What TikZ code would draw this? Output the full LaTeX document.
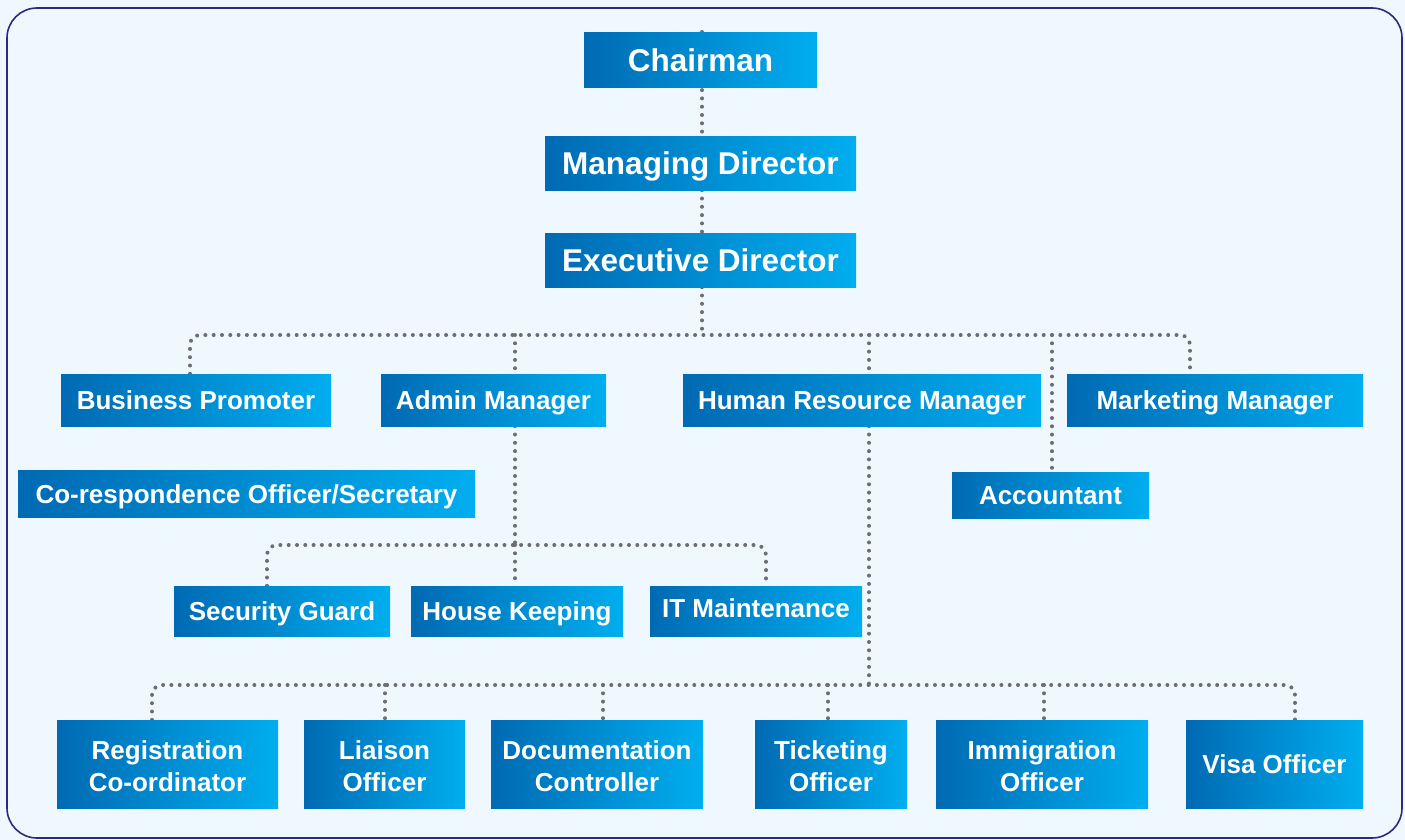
\documentclass[tikz,border=0pt]{standalone}
\usepackage{fontspec}
\setmainfont{Liberation Sans}
\usetikzlibrary{backgrounds}
\definecolor{bgc}{HTML}{EEF8FE}
\definecolor{framec}{HTML}{2B2A7E}
\definecolor{boxl}{HTML}{006AB3}
\definecolor{boxr}{HTML}{00AEEF}
\definecolor{dotc}{HTML}{6D6E71}
\begin{document}
\begin{tikzpicture}[x=1pt,y=-1pt,
  box/.style={left color=boxl,right color=boxr,draw=none,inner sep=0pt,
    text=white,font=\bfseries\fontsize{26}{32}\selectfont,align=center,
    text height=19pt,text depth=0pt},
  twobox/.style={box,text height=54pt,text depth=0pt},
  topbox/.style={box,font=\bfseries\fontsize{31.5}{36}\selectfont,text height=22.5pt,text depth=0.5pt},
  dotline/.style={draw=dotc,line width=4pt,line cap=round,dash pattern=on 0pt off 8.3pt}]
\useasboundingbox (0,0) rectangle (1405,840);
% nodes
\node[topbox,minimum width=233pt,minimum height=55pt] (chair) at (700.5,60.5) {Chairman};
\node[topbox,minimum width=311pt,minimum height=53pt] (md) at (700.5,163.5) {Managing Director};
\node[topbox,minimum width=311pt,minimum height=54pt] (ed) at (700.5,260) {Executive Director};
\node[box,minimum width=270pt,minimum height=52pt] (bp) at (196,400) {Business Promoter};
\node[box,minimum width=225pt,minimum height=52pt] (am) at (493.5,400) {Admin Manager};
\node[box,minimum width=358pt,minimum height=52pt] (hr) at (862,400) {Human Resource Manager};
\node[box,minimum width=296pt,minimum height=52pt] (mm) at (1215,400) {Marketing Manager};
\node[box,minimum width=457pt,minimum height=47pt] (co) at (246.5,493.5) {Co-respondence Officer/Secretary};
\node[box,minimum width=197pt,minimum height=46pt] (acc) at (1050.5,495) {Accountant};
\node[box,minimum width=216pt,minimum height=50pt] (sg) at (282,611) {Security Guard};
\node[box,minimum width=212pt,minimum height=50pt] (hk) at (517,611) {House Keeping};
\node[box,minimum width=212pt,minimum height=50pt,text depth=6pt] (it) at (756,611) {IT Maintenance};
\node[twobox,minimum width=221pt,minimum height=88pt] (rc) at (167.5,764) {Registration\\Co-ordinator};
\node[twobox,minimum width=161pt,minimum height=88pt] (lo) at (384.5,764) {Liaison\\Officer};
\node[twobox,minimum width=212pt,minimum height=88pt] (dc) at (597,764) {Documentation\\Controller};
\node[twobox,minimum width=152pt,minimum height=88pt] (to) at (831,764) {Ticketing\\Officer};
\node[twobox,minimum width=212pt,minimum height=88pt] (io) at (1042,764) {Immigration\\Officer};
\node[box,minimum width=177pt,minimum height=88pt] (vo) at (1274.5,764) {Visa Officer};
% connector coordinates
\coordinate (ctop) at (702,32);
\coordinate (busE) at (702,335);
\coordinate (busL) at (190,335);
\coordinate (busR) at (1190,335);
\coordinate (busAM) at (515,335);
\coordinate (busHR) at (869,335);
\coordinate (busAC) at (1052,335);
\coordinate (abL) at (267,545);
\coordinate (abR) at (766,545);
\coordinate (abM) at (515,545);
\coordinate (hbL) at (152,685);
\coordinate (hbR) at (1295,685);
\coordinate (hbM) at (869,685);
\coordinate (hb2) at (385,685);
\coordinate (hb3) at (603,685);
\coordinate (hb4) at (828,685);
\coordinate (hb5) at (1044,685);
\begin{pgfonlayer}{background}
\fill[bgc] (0,0) rectangle (1405,840);
\draw[framec,line width=1.6pt,fill=bgc,rounded corners=30pt] (7,8) rectangle (1402,838);
% connectors
\draw[dotline] (ctop) -- (ctop |- md.north);
\draw[dotline] (md.south -| ctop) -- (ed.north -| ctop);
\draw[dotline] (ed.south -| ctop) -- (busE);
\draw[dotline,rounded corners=10pt] (bp.north -| busL) -- (busL) -- (busR) -- (mm.north -| busR);
\draw[dotline] (busAM) -- (am.north -| busAM);
\draw[dotline] (busHR) -- (hr.north -| busHR);
\draw[dotline] (busAC) -- (acc.north -| busAC);
\draw[dotline] (am.south -| busAM) -- (abM);
\draw[dotline,rounded corners=10pt] (sg.north -| abL) -- (abL) -- (abR) -- (it.north -| abR);
\draw[dotline] (abM) -- (hk.north -| abM);
\draw[dotline] (hr.south -| busHR) -- (hbM);
\draw[dotline,rounded corners=10pt] (rc.north -| hbL) -- (hbL) -- (hbR) -- (vo.north -| hbR);
\draw[dotline] (hb2) -- (lo.north -| hb2);
\draw[dotline] (hb3) -- (dc.north -| hb3);
\draw[dotline] (hb4) -- (to.north -| hb4);
\draw[dotline] (hb5) -- (io.north -| hb5);
\end{pgfonlayer}
\end{tikzpicture}
\end{document}
